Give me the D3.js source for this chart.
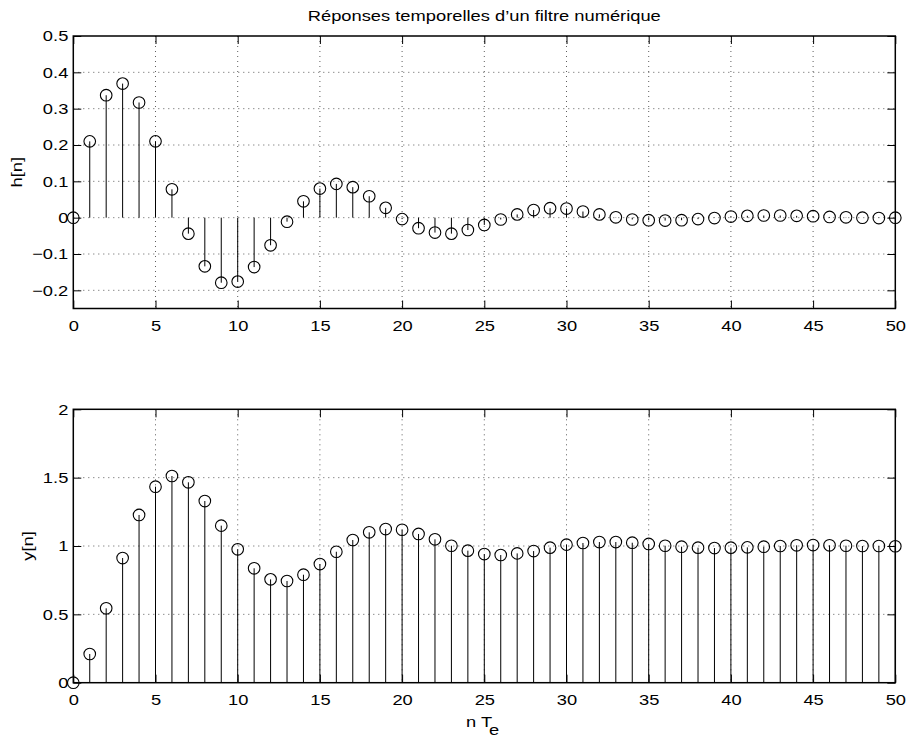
<!DOCTYPE html>
<html lang="fr">
<head>
<meta charset="UTF-8">
<title>Réponses temporelles d'un filtre numérique</title>
<script src="https://cdn.jsdelivr.net/npm/d3@7"></script>
<style>
  body { margin: 0; background: #fff; }
  svg text { font-family: "Liberation Sans", Arial, Helvetica, sans-serif; font-size: 15px; fill: #000; }
</style>
</head>
<body>
<div id="chart"></div>
<script>
// échantillons n = 0..50
const n = d3.range(0, 51);

// réponse impulsionnelle h[n]
const hValues = [0, 0.21, 0.337, 0.369, 0.317, 0.21, 0.078, -0.044, -0.134, -0.179, -0.176,
  -0.136, -0.076, -0.011, 0.045, 0.080, 0.093, 0.084, 0.059, 0.027, -0.004,
  -0.029, -0.041, -0.044, -0.034, -0.020, -0.005, 0.009, 0.021, 0.026, 0.025,
  0.017, 0.009, 0.001, -0.005, -0.007, -0.008, -0.007, -0.004, -0.001, 0.003,
  0.005, 0.006, 0.006, 0.005, 0.004, 0.002, 0.001, 0.0, -0.001, 0.0];

// réponse indicielle y[n]
const yValues = [0, 0.21, 0.544, 0.912, 1.227, 1.434, 1.512, 1.466, 1.329, 1.149, 0.976,
  0.837, 0.756, 0.744, 0.790, 0.868, 0.958, 1.044, 1.100, 1.124, 1.119,
  1.088, 1.049, 1.002, 0.966, 0.941, 0.934, 0.946, 0.963, 0.988, 1.010,
  1.022, 1.029, 1.029, 1.024, 1.015, 1.002, 0.995, 0.988, 0.985, 0.988,
  0.990, 0.995, 1.0, 1.005, 1.007, 1.005, 1.002, 1.0, 1.0, 0.998];

// graduations
const xTicks = [0, 5, 10, 15, 20, 25, 30, 35, 40, 45, 50];
const hTicks = [-0.2, -0.1, 0, 0.1, 0.2, 0.3, 0.4, 0.5];
const hTickLabels = ["\u22120.2", "\u22120.1", "0", "0.1", "0.2", "0.3", "0.4", "0.5"];
const yTicks = [0, 0.5, 1, 1.5, 2];
const yTickLabels = ["0", "0.5", "1", "1.5", "2"];

const W = 907, H = 738;
const left = 73.3, right = 895.3;
const stretch = 1.22; // la police de l'original est plus large

const svg = d3.select("#chart").append("svg")
  .attr("width", W).attr("height", H);

const x = d3.scaleLinear().domain([0, 50]).range([left, right]);

function panel(top, bottom, yDomain, ticks, tickLabels, values, ylabel, ylabelX) {
  const y = d3.scaleLinear().domain(yDomain).range([bottom, top]);
  const g = svg.append("g");

  // grille pointillée
  g.selectAll(".gx").data(xTicks.filter(t => t > 0 && t < 50)).enter().append("line")
    .attr("x1", d => x(d)).attr("x2", d => x(d))
    .attr("y1", top).attr("y2", bottom)
    .attr("stroke", "#333").attr("stroke-width", 0.8).attr("stroke-dasharray", "1,4");
  g.selectAll(".gy").data(ticks.filter(t => y(t) > top + 1 && y(t) < bottom - 1)).enter().append("line")
    .attr("x1", left).attr("x2", right)
    .attr("y1", d => y(d)).attr("y2", d => y(d))
    .attr("stroke", "#333").attr("stroke-width", 0.8).attr("stroke-dasharray", "1,4");

  // axes (graduations vers l'intérieur)
  const fmt = d => tickLabels[ticks.indexOf(d)];
  g.append("g").attr("transform", `translate(0,${bottom})`)
    .call(d3.axisBottom(x).tickValues(xTicks).tickSizeInner(-8).tickSizeOuter(0).tickPadding(12))
    .call(a => a.select(".domain").remove());
  g.append("g").attr("transform", `translate(0,${top})`)
    .call(d3.axisTop(x).tickValues(xTicks).tickSizeInner(-8).tickSizeOuter(0).tickFormat(""))
    .call(a => a.select(".domain").remove());
  g.append("g").attr("transform", `translate(${left},0)`)
    .call(d3.axisLeft(y).tickValues(ticks).tickFormat(fmt).tickSizeInner(-8).tickSizeOuter(0).tickPadding(5))
    .call(a => a.select(".domain").remove());
  g.append("g").attr("transform", `translate(${right},0)`)
    .call(d3.axisRight(y).tickValues(ticks).tickFormat("").tickSizeInner(-8).tickSizeOuter(0))
    .call(a => a.select(".domain").remove());
  g.selectAll(".tick line").attr("stroke", "#000").attr("stroke-width", 1);
  g.selectAll(".tick text").attr("font-size", null).attr("font-family", null);

  // tiges
  const data = n.map((k, i) => ({ k: k, v: values[i] }));
  g.selectAll(".stem").data(data).enter().append("line")
    .attr("x1", d => x(d.k)).attr("x2", d => x(d.k))
    .attr("y1", y(0)).attr("y2", d => y(d.v))
    .attr("stroke", "#000").attr("stroke-width", 1);
  g.selectAll(".mk").data(data).enter().append("circle")
    .attr("cx", d => x(d.k)).attr("cy", d => y(d.v)).attr("r", 5.8)
    .attr("fill", "none").attr("stroke", "#000").attr("stroke-width", 1.1);

  // cadre
  g.append("rect").attr("x", left).attr("y", top)
    .attr("width", right - left).attr("height", bottom - top)
    .attr("fill", "none").attr("stroke", "#000").attr("stroke-width", 1.5);

  g.append("text")
    .attr("transform", `translate(${ylabelX},${(top + bottom) / 2}) rotate(-90)`)
    .attr("text-anchor", "middle").text(ylabel);
  return y;
}

panel(36, 308.5, [-0.25, 0.5], hTicks, hTickLabels, hValues, "h[n]", 22);
panel(409.3, 682.7, [0, 2], yTicks, yTickLabels, yValues, "y[n]", 33);

svg.append("text").attr("x", (left + right) / 2).attr("y", 20.5)
  .attr("text-anchor", "middle").text("Réponses temporelles d’un filtre numérique");

const xl = svg.append("text").attr("x", 466).attr("y", 727).text("n T");
svg.append("text").attr("x", 489).attr("y", 735).attr("font-size", "12px").text("e");

// élargissement horizontal du texte
svg.selectAll("text").each(function() {
  const len = this.getComputedTextLength();
  if (len > 0) d3.select(this).attr("textLength", len * stretch).attr("lengthAdjust", "spacingAndGlyphs");
});
</script>
</body>
</html>
